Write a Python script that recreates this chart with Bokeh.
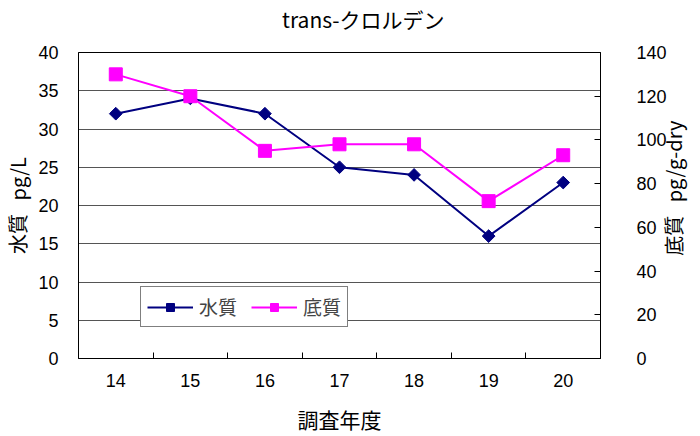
from bokeh.plotting import figure
from bokeh.models import Range1d, LinearAxis, FixedTicker, Legend, LegendItem
from bokeh.embed import file_html
from bokeh.resources import INLINE
import numpy as np

# ---- data ----
years = [14, 15, 16, 17, 18, 19, 20]
water = [32, 34, 32, 25, 24, 16, 23]          # 水質 pg/L
sediment = [130, 120, 95, 98, 98, 72, 93]     # 底質 pg/g-dry
left_ticks = [0, 5, 10, 15, 20, 25, 30, 35, 40]
right_ticks = [0, 20, 40, 60, 80, 100, 120, 140]
title_text = "trans-クロルデン"
xlabel = "調査年度"
ylabel_left = "水質\u00a0\u00a0\u00a0pg/L"
ylabel_right = "底質\u00a0\u00a0\u00a0pg/g-dry"
series_names = ["水質", "底質"]
right_label_pos = 47    # where the right-hand title starts, in 底質 units
title_pos = 17.32       # centre of the chart title, in 調査年度 units

FONT = "Noto Sans CJK JP"
NUMFONT = "Liberation Sans"

p = figure(frame_width=522, frame_height=306,
           output_backend="svg", toolbar_location=None,
           x_range=Range1d(years[0] - 0.5, years[-1] + 0.5),
           y_range=Range1d(left_ticks[0], left_ticks[-1]),
           min_border_left=78, min_border_right=100,
           min_border_top=52, min_border_bottom=78)
p.background_fill_color = "white"
p.border_fill_color = "white"
p.outline_line_color = "black"
p.outline_line_width = 1

# x axis (the figure's own axis below the frame)
xa = p.below[0]
xa.ticker = FixedTicker(ticks=years, minor_ticks=[y + 0.5 for y in years[:-1]])
xa.major_tick_in = 0
xa.major_tick_out = 0
xa.minor_tick_in = 6
xa.minor_tick_out = 0
xa.minor_tick_line_color = "black"
xa.axis_line_color = "black"
xa.major_label_text_font = NUMFONT
xa.major_label_text_font_size = "18px"
xa.major_label_text_color = "black"
xa.major_label_standoff = 15
xa.axis_label = xlabel
xa.axis_label_text_font = FONT
xa.axis_label_text_font_size = "21px"
xa.axis_label_text_font_style = "normal"
xa.axis_label_text_color = "black"
xa.axis_label_standoff = 14

# chart title, drawn as a label above the frame
ax_t = LinearAxis(ticker=FixedTicker(ticks=[title_pos]))
ax_t.major_label_overrides = {title_pos: title_text}
ax_t.major_tick_in = 0
ax_t.major_tick_out = 0
ax_t.minor_tick_line_color = None
ax_t.axis_line_color = None
ax_t.major_label_text_font = FONT
ax_t.major_label_text_font_size = "21px"
ax_t.major_label_text_color = "black"
ax_t.major_label_standoff = 19
p.add_layout(ax_t, "above")

# left axis
ya = p.left[0]
ya.ticker = FixedTicker(ticks=left_ticks)
ya.major_tick_in = 0
ya.major_tick_out = 0
ya.minor_tick_line_color = None
ya.axis_line_color = "black"
ya.major_label_text_font = NUMFONT
ya.major_label_text_font_size = "18px"
ya.major_label_text_color = "black"
ya.major_label_standoff = 20
ya.axis_label = ylabel_left
ya.axis_label_text_font = FONT
ya.axis_label_text_font_size = "20px"
ya.axis_label_text_font_style = "normal"
ya.axis_label_text_color = "black"
ya.axis_label_standoff = 3

# grid
p.xgrid.visible = False
p.ygrid.ticker = FixedTicker(ticks=left_ticks)
p.ygrid.grid_line_color = "#555555"
p.ygrid.grid_line_width = 1

# right axis
p.extra_y_ranges = {"sed": Range1d(right_ticks[0], right_ticks[-1])}
ax2 = LinearAxis(y_range_name="sed", ticker=FixedTicker(ticks=right_ticks))
ax2.major_tick_in = 6
ax2.major_tick_out = 0
ax2.minor_tick_line_color = None
ax2.axis_line_color = "black"
ax2.major_label_text_font = NUMFONT
ax2.major_label_text_font_size = "18px"
ax2.major_label_text_color = "black"
ax2.major_label_standoff = 36
p.add_layout(ax2, "right")

# right-hand axis title, reading bottom-to-top as in the reference
ax3 = LinearAxis(y_range_name="sed", ticker=FixedTicker(ticks=[right_label_pos]))
ax3.major_label_overrides = {right_label_pos: ylabel_right}
ax3.major_label_orientation = np.pi / 2
ax3.major_tick_in = 0
ax3.major_tick_out = 0
ax3.minor_tick_line_color = None
ax3.axis_line_color = None
ax3.major_label_text_font = FONT
ax3.major_label_text_font_size = "20px"
ax3.major_label_text_color = "black"
ax3.major_label_standoff = 4
p.add_layout(ax3, "right")

# series
navy = "#000080"
magenta = "#FF00FF"
r1 = p.line(years, water, line_color=navy, line_width=2)
r1m = p.scatter(years, water, marker="square", angle=np.pi / 4, size=9,
                fill_color=navy, line_color=navy)
r2 = p.line(years, sediment, y_range_name="sed", line_color=magenta, line_width=2)
r2m = p.scatter(years, sediment, y_range_name="sed", marker="square", size=13,
                fill_color=magenta, line_color=magenta)

legend = Legend(items=[LegendItem(label=series_names[0], renderers=[r1, r1m]),
                       LegendItem(label=series_names[1], renderers=[r2, r2m])],
                location=(62, 31), orientation="horizontal")
legend.border_line_color = "black"
legend.border_line_width = 1
legend.background_fill_color = "white"
legend.background_fill_alpha = 1
legend.label_text_font = FONT
legend.label_text_font_size = "19px"
legend.glyph_width = 46
legend.glyph_height = 20
legend.label_standoff = 6
legend.spacing = 14
legend.padding = 6
legend.margin = 0
p.add_layout(legend, "center")

open("out.html", "w").write(file_html(p, INLINE))
